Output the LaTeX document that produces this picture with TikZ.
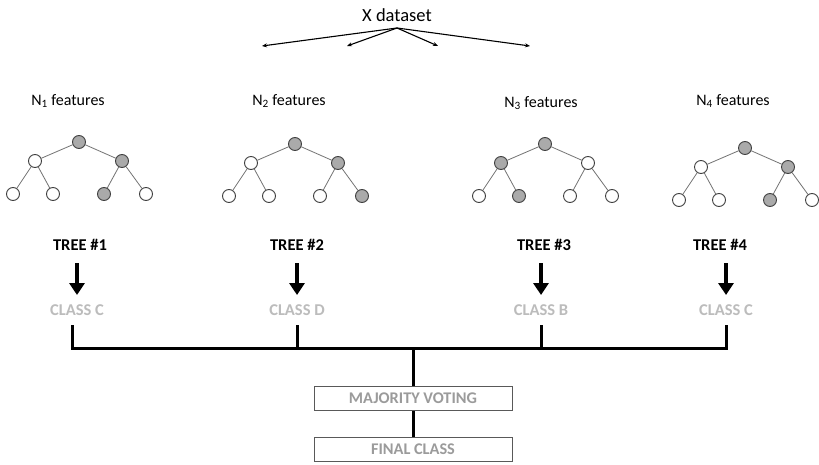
\documentclass[tikz,border=0pt]{standalone}
\usepackage{fontspec}
\setmainfont{Carlito}
\usetikzlibrary{arrows.meta}
\definecolor{nodegray}{RGB}{170,170,170}
\definecolor{classgray}{RGB}{188,188,188}
\definecolor{boxgray}{RGB}{155,155,155}
\tikzset{
    tnode/.style={circle,draw=black!75,line width=0.9pt,minimum size=13pt,inner sep=0pt},
    tedge/.style={draw=black!55,line width=0.8pt},
    split/.style={line width=1.1pt,-{Stealth[length=5pt,width=4pt]}},
    vote/.style={line width=3.5pt,-{Triangle[length=12pt,width=15pt]},shorten <=9pt,shorten >=6pt},
    bus/.style={line width=3pt},
    title/.style={font=\fontsize{16}{18}\selectfont},
    treelabel/.style={font=\fontsize{16.5}{18}\selectfont\bfseries},
    classlabel/.style={font=\fontsize{16.5}{18}\selectfont\bfseries,text=classgray},
    votebox/.style={draw=black!65,line width=1pt,minimum width=198pt,minimum height=24pt,
        inner sep=0pt,font=\fontsize{16.3}{18}\selectfont\bfseries,text=boxgray},
    % binary tree with three levels, fill of every node as argument
    pics/tree/.style n args={7}{code={
        \node[tnode,fill=#1] (-r) at (0,0) {};
        \node[tnode,fill=#2] (-a) at (-44,19) {};
        \node[tnode,fill=#3] (-b) at (43,19) {};
        \node[tnode,fill=#4] (-aa) at (-66,52) {};
        \node[tnode,fill=#5] (-ab) at (-26,52) {};
        \node[tnode,fill=#6] (-ba) at (25,52) {};
        \node[tnode,fill=#7] (-bb) at (67,52) {};
        \draw[tedge] (-r) -- (-a);
        \draw[tedge] (-r) -- (-b);
        \draw[tedge] (-a) -- (-aa);
        \draw[tedge] (-a) -- (-ab);
        \draw[tedge] (-b) -- (-ba);
        \draw[tedge] (-b) -- (-bb);
    }}
}
\begin{document}
\begin{tikzpicture}[x=1pt,y=-1pt]
    \useasboundingbox[fill=white] (0,0) rectangle (819,465);
    % data set split
    \node[font=\fontsize{18.5}{20}\selectfont] (ds) at (397,15) {X dataset};
    \coordinate (src) at (397,28);
    \foreach \x [count=\i] in {262,347,438,530}{
        \coordinate (s\i) at (\x,46);
        \draw[split] (src) -- (s\i);
    }
    % feature subsets
    \node[title] (f1) at (68,101) {N\textsubscript{1} features};
    \node[title] (f2) at (289,101) {N\textsubscript{2} features};
    \node[title] (f3) at (541,103) {N\textsubscript{3} features};
    \node[title] (f4) at (733,101) {N\textsubscript{4} features};
    % trees
    \pic (t1) at (79,142) {tree={nodegray}{white}{nodegray}{white}{white}{nodegray}{white}};
    \pic (t2) at (295,144) {tree={nodegray}{white}{nodegray}{white}{white}{white}{nodegray}};
    \pic (t3) at (545,144) {tree={nodegray}{nodegray}{white}{white}{nodegray}{white}{white}};
    \pic (t4) at (745,148) {tree={nodegray}{white}{nodegray}{white}{white}{nodegray}{white}};
    % tree names and predicted classes
    \node[treelabel] (l1) at (80,245) {TREE \#1};
    \node[treelabel] (l2) at (297,245) {TREE \#2};
    \node[treelabel] (l3) at (544,245) {TREE \#3};
    \node[treelabel] (l4) at (720,245) {TREE \#4};
    \node[classlabel] (c1) at (77,310) {CLASS C};
    \node[classlabel] (c2) at (297,310) {CLASS D};
    \node[classlabel] (c3) at (541,310) {CLASS B};
    \node[classlabel] (c4) at (726,310) {CLASS C};
    \foreach \i in {1,...,4}
        \draw[vote] (l\i.south -| c\i) -- (c\i.north);
    % collect the votes
    \node[votebox] (mv) at (413,398.5) {MAJORITY VOTING};
    \node[votebox] (fc) at (413,449.5) {FINAL CLASS};
    \coordinate (b1) at (72,348);
    \coordinate (b2) at (297,348);
    \coordinate (b3) at (541,348);
    \coordinate (b4) at (726,348);
    \coordinate (bm) at (413,348);
    \draw[bus] (b1 |- 0,325) -- (b1) -- (b4) -- (b4 |- 0,325);
    \draw[bus] (b2 |- 0,325) -- (b2);
    \draw[bus] (b3 |- 0,325) -- (b3);
    \draw[bus] (bm) -- (mv.north);
    \draw[bus] (mv.south) -- (fc.north);
\end{tikzpicture}
\end{document}
